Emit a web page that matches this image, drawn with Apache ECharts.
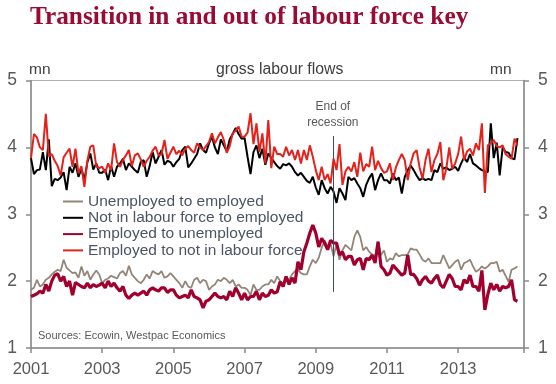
<!DOCTYPE html>
<html>
<head>
<meta charset="utf-8">
<script src="https://cdn.jsdelivr.net/npm/echarts@6/dist/echarts.min.js"></script>
<style>
html,body{margin:0;padding:0;background:#fff;}
#chart{width:556px;height:384px;}
</style>
</head>
<body>
<div id="chart"></div>
<script>
// ---- data (monthly, Jan 2001 - Sep 2014, millions) ----
const startYear = 2001;
const xTickLabels = [2001, 2003, 2005, 2007, 2009, 2011, 2013];
const yTickLabels = [1, 2, 3, 4, 5];
const recessionEnd = 2009.48;

const ueToE = [
  1.87,1.9,2.02,1.92,1.95,2.02,2.05,2.1,2.14,2.17,2.15,2.32,
  2.2,2.16,2.12,2.13,2.05,2.22,2.08,2.15,2.02,2.1,2.16,2.1,
  1.97,2.02,2.04,2.08,2.06,2.04,2.12,2.15,2.08,2.23,2.1,2.05,
  2.0,1.97,2.02,2.1,2.04,2.15,2.12,2.1,2.15,2.05,2.07,2.12,
  2.07,2.02,1.97,1.9,2.0,1.92,1.9,2.02,2.05,1.97,2.02,2.0,
  1.87,1.92,1.95,2.02,2.0,2.05,2.02,1.97,2.02,1.92,1.95,1.9,
  1.9,1.87,1.79,1.95,1.87,1.87,1.92,1.95,1.95,2.02,1.97,2.07,
  2.0,1.94,2.05,2.02,2.1,2.15,2.17,2.12,2.1,2.1,2.22,2.32,
  2.27,2.35,2.5,2.61,2.49,2.56,2.37,2.56,2.32,2.46,2.54,2.5,
  2.46,2.66,2.76,2.66,2.46,2.51,2.44,2.4,2.37,2.59,2.39,2.46,
  2.29,2.34,2.32,2.42,2.37,2.39,2.39,2.4,2.49,2.47,2.47,2.4,
  2.32,2.29,2.34,2.27,2.27,2.27,2.27,2.39,2.29,2.19,2.24,2.29,
  2.32,2.17,2.27,2.29,2.32,2.22,2.14,2.17,2.22,2.19,2.22,2.27,
  2.27,2.29,2.14,2.17,2.08,1.99,2.17,2.19,2.22
];
const nilfToE = [
  3.84,3.6,3.66,3.67,3.93,3.66,4.12,3.42,3.53,3.51,3.55,3.63,
  3.36,3.71,3.62,3.76,3.56,3.68,3.51,3.78,3.91,3.67,3.76,3.62,
  3.62,3.67,3.51,3.72,3.56,3.71,3.76,3.83,3.66,3.76,3.71,3.66,
  3.62,3.78,3.81,3.56,3.72,3.93,3.76,3.86,3.96,3.74,3.8,3.78,
  3.71,3.78,3.83,3.96,4.01,3.7,3.76,3.83,3.9,4.06,3.96,3.92,
  4.06,4.16,4.0,3.9,4.12,4.03,3.94,4.12,4.2,4.29,4.2,4.13,
  4.14,3.86,3.6,3.93,4.03,3.84,3.98,3.74,3.91,3.84,3.78,3.72,
  3.68,3.75,3.73,3.76,3.71,3.63,3.58,3.62,3.56,3.5,3.47,3.56,
  3.4,3.29,3.51,3.39,3.31,3.41,3.34,3.17,3.39,3.31,3.21,3.56,
  3.51,3.54,3.46,3.39,3.26,3.44,3.54,3.61,3.36,3.51,3.61,3.51,
  3.51,3.46,3.61,3.51,3.55,3.31,3.56,3.66,3.73,3.66,3.58,3.51,
  3.54,3.51,3.53,3.51,3.66,3.63,3.76,3.68,3.7,3.66,3.68,3.71,
  3.65,3.76,3.85,3.78,3.9,3.76,3.73,3.69,3.66,3.64,3.63,4.36,
  3.84,4.07,3.58,4.0,3.93,3.92,3.84,3.82,4.14
];
const eToU = [
  1.77,1.79,1.81,1.85,1.82,1.95,1.85,2.0,2.09,2.11,2.0,2.07,
  1.92,2.0,1.79,1.98,1.95,1.92,1.9,1.97,1.9,1.95,1.92,1.94,
  1.97,1.9,2.0,1.92,1.97,1.9,1.85,1.92,1.79,1.74,1.79,1.82,
  1.79,1.82,1.85,1.79,1.87,1.9,1.87,1.85,1.9,1.9,1.83,1.87,
  1.87,1.79,1.75,1.77,1.79,1.75,1.87,1.77,1.75,1.72,1.6,1.7,
  1.72,1.77,1.82,1.77,1.75,1.77,1.72,1.85,1.77,1.9,1.82,1.72,
  1.82,1.72,1.77,1.77,1.85,1.72,1.82,1.77,1.79,1.87,1.82,1.84,
  1.99,1.92,2.07,1.95,2.05,1.97,2.29,2.17,2.44,2.57,2.72,2.84,
  2.72,2.51,2.64,2.57,2.47,2.61,2.57,2.57,2.39,2.44,2.32,2.37,
  2.37,2.24,2.32,2.34,2.17,2.34,2.32,2.39,2.27,2.59,2.22,2.17,
  2.09,2.12,2.24,2.19,2.14,2.09,2.12,2.39,2.1,2.1,2.04,1.94,
  2.02,2.07,2.0,1.97,2.04,2.09,1.95,1.9,2.0,2.1,2.04,1.92,
  1.92,1.87,2.02,1.97,2.09,1.92,1.92,1.85,2.16,1.57,1.8,1.97,
  1.87,1.95,1.85,1.92,1.9,1.92,2.02,1.72,1.7
];
const eToNilf = [
  3.84,4.2,4.15,4.0,3.96,4.5,3.87,3.9,3.8,3.72,3.58,3.85,
  3.92,3.98,3.71,3.98,3.61,3.72,3.41,3.8,4.01,4.03,3.72,3.69,
  3.71,3.62,3.76,3.66,4.06,3.78,3.71,3.81,3.88,3.96,3.72,3.88,
  3.91,3.82,3.71,3.8,3.86,3.95,4.01,3.88,3.9,4.11,3.83,3.92,
  4.01,3.9,3.95,3.88,3.98,4.02,3.96,3.92,4.06,4.0,3.96,4.02,
  4.08,4.21,4.06,4.15,4.23,4.11,3.92,4.02,4.21,4.25,4.31,4.16,
  4.16,4.22,4.51,4.05,4.36,3.93,4.21,3.76,4.41,3.69,4.01,3.9,
  3.9,3.86,4.01,3.88,3.96,3.81,3.96,3.76,3.96,3.81,4.03,3.86,
  3.66,3.51,3.71,3.51,3.6,3.46,3.83,3.66,4.05,3.44,3.64,3.71,
  3.64,3.78,3.56,3.92,3.64,3.75,3.71,4.01,3.66,3.8,3.69,3.62,
  3.64,3.76,3.51,3.7,3.81,3.9,3.81,3.51,3.76,3.91,3.96,3.7,
  3.53,3.81,3.98,3.63,3.81,3.9,4.08,3.51,3.68,4.0,3.68,3.76,
  3.9,4.16,3.81,3.94,3.98,3.88,4.06,3.96,4.36,3.32,4.03,4.06,
  4.11,4.02,4.0,4.03,3.9,3.86,3.83,4.13,4.03
];
const seriesNames = [
  'Unemployed to employed',
  'Not in labour force to employed',
  'Employed to unemployed',
  'Employed to not in labour force'
];

// ---- build ----
const monthT = ueToE.map((_, i) => startYear + i / 12);
const pairs = arr => arr.map((v, i) => [monthT[i], v]);

const chart = echarts.init(document.getElementById('chart'), null, {renderer: 'canvas'});
const font = 'Liberation Sans, Arial, sans-serif';
const axisCol = '#8a8a8a';

const yAxisBase = {
  type: 'value', min: 1, max: 5, interval: 1,
  axisLine: {show: true, lineStyle: {color: axisCol, width: 1.5}},
  axisTick: {show: true, inside: false, length: 5, lineStyle: {color: axisCol, width: 1.5}},
  axisLabel: {fontSize: 17.5, color: '#5a5a5a', fontFamily: font, margin: 14,
    formatter: v => (yTickLabels.indexOf(v) >= 0 ? String(v) : '')},
  splitLine: {show: false}
};

chart.setOption({
  animation: false,
  backgroundColor: '#ffffff',
  title: {
    text: 'Transition in and out of labour force key',
    left: 30, top: 5, padding: 0,
    textStyle: {fontFamily: 'Liberation Serif, Times New Roman, serif', fontWeight: 'bold', fontSize: 25.3, color: '#9a0a34'}
  },
  grid: {left: 31, right: 32, top: 80.5, bottom: 36, show: true, borderColor: '#b0b0b0', borderWidth: 1, containLabel: false},
  xAxis: {
    type: 'value', min: startYear, max: 2014.85, interval: 2,
    axisLine: {show: true, lineStyle: {color: axisCol, width: 1.5}},
    axisTick: {show: true, inside: false, length: 5, lineStyle: {color: axisCol, width: 1.5}},
    axisLabel: {
      fontSize: 16.5, color: '#5a5a5a', fontFamily: font, margin: 13,
      formatter: v => (xTickLabels.indexOf(Math.round(v * 100) / 100) >= 0 ? String(v) : '')
    },
    splitLine: {show: false}
  },
  yAxis: [
    Object.assign({}, yAxisBase, {position: 'left'}),
    Object.assign({}, yAxisBase, {position: 'right'})
  ],
  legend: {
    orient: 'vertical', left: 57, top: 188.5,
    itemWidth: 20, itemHeight: 14, itemGap: 0.3,
    data: seriesNames,
    itemStyle: {opacity: 0},
    textStyle: {fontSize: 15.5, lineHeight: 16, color: '#4b5563', fontFamily: font},
    selectedMode: false
  },
  graphic: [
    {type: 'text', left: 29, top: 62, style: {text: 'mn', fontSize: 15.5, fill: '#404040', fontFamily: font}},
    {type: 'text', left: 490, top: 62, style: {text: 'mn', fontSize: 15.5, fill: '#404040', fontFamily: font}},
    {type: 'text', left: 216, top: 62, style: {text: 'gross labour flows', fontSize: 15.8, fill: '#404040', fontFamily: font}},
    {type: 'text', left: 38, top: 330, style: {text: 'Sources: Ecowin, Westpac Economics', fontSize: 11, fill: '#595959', fontFamily: font}}
  ],
  series: [
    {name: seriesNames[0], type: 'line', data: pairs(ueToE), symbol: 'none', color: '#938679', lineStyle: {width: 1.8, color: '#938679'}, z: 2},
    {name: seriesNames[1], type: 'line', data: pairs(nilfToE), symbol: 'none', color: '#000000', lineStyle: {width: 2, color: '#000000'}, z: 3},
    {name: seriesNames[2], type: 'line', data: pairs(eToU), symbol: 'none', color: '#a1002f', lineStyle: {width: 3.2, color: '#a1002f'}, z: 4,
      markLine: {
        silent: true, symbol: ['none', 'none'], animation: false,
        lineStyle: {color: '#3c4a58', width: 1, type: 'solid'},
        label: {show: true, position: 'start', formatter: 'End of\nrecession', fontSize: 12, lineHeight: 15.5, color: '#5a5a5a', fontFamily: font, distance: 6},
        data: [[{coord: [recessionEnd, 4.17]}, {coord: [recessionEnd, 1.84]}]]
      }
    },
    {name: seriesNames[3], type: 'line', data: pairs(eToNilf), symbol: 'none', color: '#e3221c', lineStyle: {width: 2, color: '#e3221c'}, z: 5}
  ]
});
</script>
</body>
</html>
